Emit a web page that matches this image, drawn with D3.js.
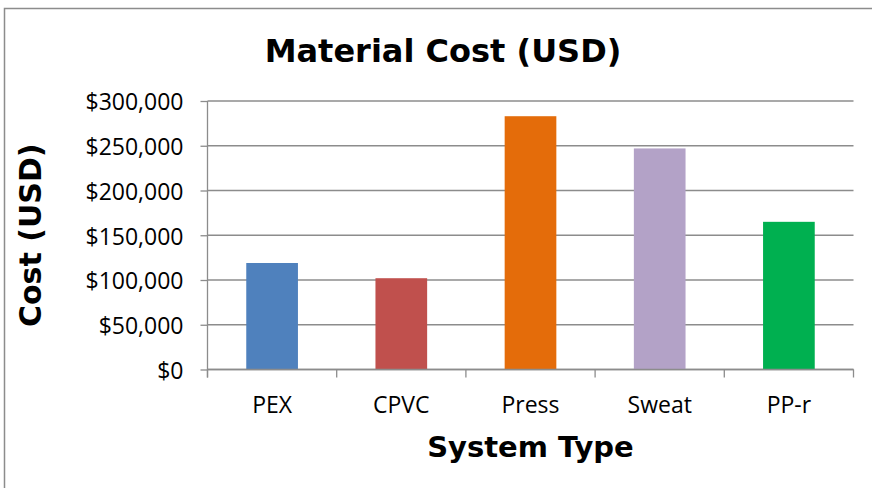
<!DOCTYPE html>
<html>
<head>
<meta charset="utf-8">
<script src="https://cdn.jsdelivr.net/npm/d3@7"></script>
<style>
  html, body { margin: 0; padding: 0; background: #fff; }
  svg { display: block; }
</style>
</head>
<body>
<svg id="chart" width="872" height="488"></svg>
<script>
const categories = ["PEX", "CPVC", "Press", "Sweat", "PP-r"];
const costValues = [119000, 102000, 283000, 247000, 165000];
const barColors = ["#4f81bd", "#c0504d", "#e46c0a", "#b3a2c7", "#00b050"];
const yTickValues = [0, 50000, 100000, 150000, 200000, 250000, 300000];
const chartTitle = "Material Cost (USD)";
const xTitle = "System Type";
const yTitle = "Cost (USD)";

const svg = d3.select("#chart");
const W = 872, H = 488;
const plot = { left: 207.5, right: 853.5, top: 101, bottom: 369.5 };
const gridColor = "#8c8c8c";

// outer border (cut off at right and bottom like the reference)
svg.append("rect")
  .attr("x", 4.5).attr("y", 8.5)
  .attr("width", W + 10).attr("height", H + 10)
  .attr("fill", "#fff").attr("stroke", "#8c8c8c").attr("stroke-width", 1.5);

const x = d3.scaleBand().domain(categories)
  .range([plot.left, plot.right]).paddingInner(0.6).paddingOuter(0.3);
const y = d3.scaleLinear().domain([0, 300000]).range([plot.bottom, plot.top]);

// gridlines
svg.append("g").selectAll("line").data(yTickValues).join("line")
  .attr("x1", plot.left).attr("x2", plot.right)
  .attr("y1", d => y(d)).attr("y2", d => y(d))
  .attr("stroke", gridColor).attr("stroke-width", 1.3);

// bars
svg.append("g").selectAll("rect").data(categories).join("rect")
  .attr("x", d => x(d))
  .attr("y", (d, i) => y(costValues[i]))
  .attr("width", x.bandwidth())
  .attr("height", (d, i) => y(0) - y(costValues[i]))
  .attr("fill", (d, i) => barColors[i]);

// y axis
const yAxis = d3.axisLeft(y).tickValues(yTickValues)
  .tickFormat(d => "$" + d3.format(",")(d))
  .tickSize(7).tickPadding(17);
const gy = svg.append("g").attr("transform", `translate(${plot.left},0)`).call(yAxis);
gy.select(".domain").remove();
gy.selectAll(".tick line").attr("stroke", gridColor).attr("stroke-width", 1.3);
gy.selectAll(".tick text")
  .attr("font-family", "'Open Sans', sans-serif")
  .attr("font-size", 23).attr("fill", "#000").attr("dy", "0.38em");
svg.append("line")
  .attr("x1", plot.left).attr("x2", plot.left)
  .attr("y1", plot.top).attr("y2", plot.bottom + 8)
  .attr("stroke", gridColor).attr("stroke-width", 1.3);

// x axis
const xAxis = d3.axisBottom(x).tickSize(0).tickPadding(0);
const gx = svg.append("g").attr("transform", `translate(0,${plot.bottom})`).call(xAxis);
gx.select(".domain").remove();
gx.selectAll(".tick text")
  .attr("font-family", "'Open Sans', sans-serif")
  .attr("font-size", 23).attr("fill", "#000")
  .attr("dy", 0).attr("y", 413 - plot.bottom);
svg.append("line")
  .attr("x1", plot.left).attr("x2", plot.right)
  .attr("y1", plot.bottom).attr("y2", plot.bottom)
  .attr("stroke", gridColor).attr("stroke-width", 1.3);
// category boundary ticks
const edges = [plot.left].concat(categories.slice(1).map(c => x(c) - (x.step() - x.bandwidth()) / 2), [plot.right]);
svg.append("g").selectAll("line").data(edges).join("line")
  .attr("x1", d => d).attr("x2", d => d)
  .attr("y1", plot.bottom).attr("y2", plot.bottom + 8)
  .attr("stroke", gridColor).attr("stroke-width", 1.3);

// titles
svg.append("text")
  .attr("x", 443).attr("y", 61.5)
  .attr("text-anchor", "middle")
  .attr("font-family", "'DejaVu Sans', Verdana, sans-serif")
  .attr("font-weight", "bold").attr("font-size", 32).attr("fill", "#000")
  .text(chartTitle);

svg.append("text")
  .attr("x", (plot.left + plot.right) / 2).attr("y", 457)
  .attr("text-anchor", "middle")
  .attr("font-family", "'DejaVu Sans', Verdana, sans-serif")
  .attr("font-weight", "bold").attr("font-size", 29).attr("fill", "#000")
  .text(xTitle);

svg.append("text")
  .attr("transform", `translate(41,${(plot.top + plot.bottom) / 2}) rotate(-90)`)
  .attr("text-anchor", "middle")
  .attr("font-family", "'DejaVu Sans', Verdana, sans-serif")
  .attr("font-weight", "bold").attr("font-size", 30).attr("fill", "#000")
  .text(yTitle);
</script>
</body>
</html>
